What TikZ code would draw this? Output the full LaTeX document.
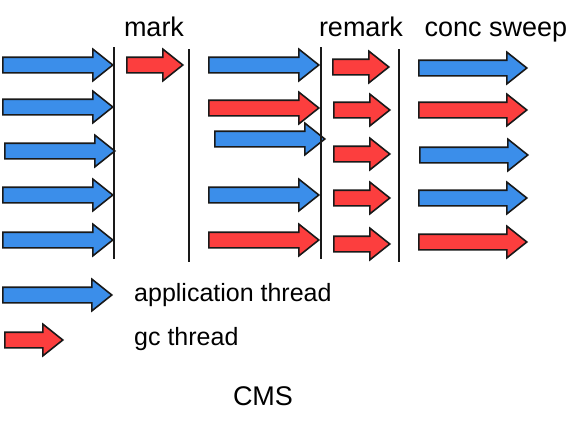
\documentclass[tikz,border=0pt]{standalone}
\usepackage{fontspec}
\setmainfont{Liberation Sans}
\usetikzlibrary{shapes.arrows}
\definecolor{appblue}{HTML}{3B8EEA}
\definecolor{gcred}{HTML}{FC3E3E}
\tikzset{thr/.style={single arrow,draw=black!90,line width=1.6pt,inner sep=7pt,minimum width=30pt,single arrow head extend=8pt,single arrow tip angle=77,anchor=tail},app/.style={thr,fill=appblue,minimum height=#1},app/.default=110pt,gc/.style={thr,fill=gcred,minimum height=#1},gc/.default=56pt,phase/.style={line width=1.4pt,draw=black!90},hdr/.style={font=\fontsize{27}{27}\selectfont,anchor=base,inner sep=0pt},lbl/.style={font=\fontsize{25}{25}\selectfont,anchor=west,inner sep=0pt}}
\begin{document}
\begin{tikzpicture}[x=1pt,y=-1pt]
\useasboundingbox (0,0) rectangle (583,423);
\node[hdr] (hmark) at (154,36) {mark};\node[hdr] (hremark) at (361,36) {remark};\node[hdr] (hsweep) at (496,36) {conc sweep};
% application threads before mark
\node[app] (a1) at (2,65) {};\node[app] (a2) at (2,107) {};\node[app] (a3) at (4,151) {};\node[app] (a4) at (2,195) {};\node[app] (a5) at (2,240) {};
\node[gc] (m1) at (126,65) {};
% concurrent mark
\node[app] (c1) at (208,65) {};\node[gc=110pt] (c2) at (208,108) {};\node[app] (c3) at (214,139) {};\node[app] (c4) at (208,195) {};\node[gc=110pt] (c5) at (208,240) {};
% remark
\node[gc] (r1) at (332,67) {};\node[gc] (r2) at (333,110) {};\node[gc] (r3) at (333,154) {};\node[gc] (r4) at (333,198) {};\node[gc] (r5) at (333,244) {};
% concurrent sweep
\node[app=108pt] (s1) at (418,68) {};\node[gc=108pt] (s2) at (418,110) {};\node[app=108pt] (s3) at (419,155) {};\node[app=108pt] (s4) at (418,198) {};\node[gc=108pt] (s5) at (418,242) {};
\draw[phase] (114,47)--(114,259);\draw[phase] (189,49)--(189,262);\draw[phase] (321,47)--(321,259);\draw[phase] (399,49)--(399,262);
% legend
\node[app=109pt] (la) at (2,295) {};\node[lbl] (ta) at (134,295) {application thread};
\node[gc=58pt] (lg) at (4,340) {};\node[lbl] (tg) at (134,339) {gc thread};
\node[font=\fontsize{27}{27}\selectfont] (cms) at (263,396) {CMS};
\end{tikzpicture}
\end{document}
